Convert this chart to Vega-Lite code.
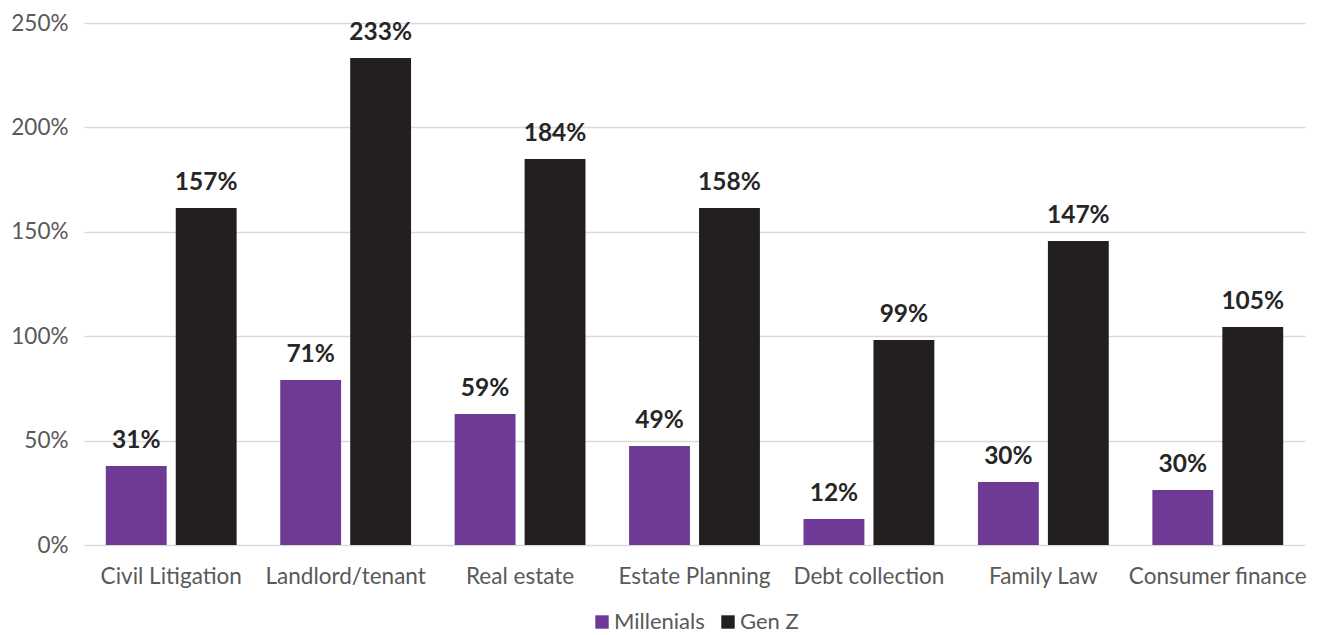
{
  "$schema": "https://vega.github.io/schema/vega-lite/v6.json",
  "width": 1221,
  "height": 522,
  "autosize": "none",
  "padding": {"left": 84, "top": 23, "right": 20, "bottom": 90},
  "background": "white",
  "config": {
    "font": "Lato",
    "view": {"stroke": null},
    "axis": {"labelFont": "Lato", "labelColor": "#595959", "labelFontSize": 22.5, "domain": false, "ticks": false, "gridColor": "#d9d9d9", "gridWidth": 1.5},
    "legend": {"layout": {"bottom": {"anchor": "middle"}}}
  },
  "data": {
    "values": [
      {"area": "Civil Litigation", "gen": "Millenials", "value": 37.8, "label": "31%"},
      {"area": "Civil Litigation", "gen": "Gen Z", "value": 161.4, "label": "157%"},
      {"area": "Landlord/tenant", "gen": "Millenials", "value": 79, "label": "71%"},
      {"area": "Landlord/tenant", "gen": "Gen Z", "value": 233.2, "label": "233%"},
      {"area": "Real estate", "gen": "Millenials", "value": 62.7, "label": "59%"},
      {"area": "Real estate", "gen": "Gen Z", "value": 184.9, "label": "184%"},
      {"area": "Estate Planning", "gen": "Millenials", "value": 47.4, "label": "49%"},
      {"area": "Estate Planning", "gen": "Gen Z", "value": 161.4, "label": "158%"},
      {"area": "Debt collection", "gen": "Millenials", "value": 12.5, "label": "12%"},
      {"area": "Debt collection", "gen": "Gen Z", "value": 98.2, "label": "99%"},
      {"area": "Family Law", "gen": "Millenials", "value": 30.2, "label": "30%"},
      {"area": "Family Law", "gen": "Gen Z", "value": 145.6, "label": "147%"},
      {"area": "Consumer finance", "gen": "Millenials", "value": 26.3, "label": "30%"},
      {"area": "Consumer finance", "gen": "Gen Z", "value": 104.4, "label": "105%"}
    ]
  },
  "encoding": {
    "x": {"field": "area", "type": "nominal", "sort": null, "title": null,
      "scale": {"paddingInner": 0.25, "paddingOuter": 0.125},
      "axis": {"labelAngle": 0, "labelPadding": 20, "grid": false}},
    "xOffset": {"field": "gen", "type": "nominal", "sort": ["Millenials", "Gen Z"], "scale": {"paddingInner": 0.13, "paddingOuter": 0}},
    "y": {"field": "value", "type": "quantitative", "title": null,
      "scale": {"domain": [0, 250], "nice": false},
      "axis": {"values": [0, 50, 100, 150, 200, 250], "labelExpr": "datum.value + '%'", "labelPadding": 16, "grid": true}}
  },
  "layer": [
    {
      "mark": {"type": "bar"},
      "encoding": {
        "color": {"field": "gen", "type": "nominal", "sort": ["Millenials", "Gen Z"],
          "scale": {"domain": ["Millenials", "Gen Z"], "range": ["#6f3996", "#231f20"]},
          "legend": {"orient": "bottom", "direction": "horizontal", "title": null, "symbolType": "square", "symbolSize": 180, "symbolStrokeWidth": 0, "labelFontSize": 22, "labelColor": "#595959", "labelFont": "Lato", "columnPadding": 12, "symbolOffset": 0, "offset": 23, "labelOffset": 1}
        }
      }
    },
    {
      "mark": {"type": "text", "baseline": "bottom", "dy": -13, "font": "Lato", "fontWeight": "bold", "fontSize": 24.5, "color": "#262626"},
      "encoding": {"text": {"field": "label"}}
    }
  ]
}
